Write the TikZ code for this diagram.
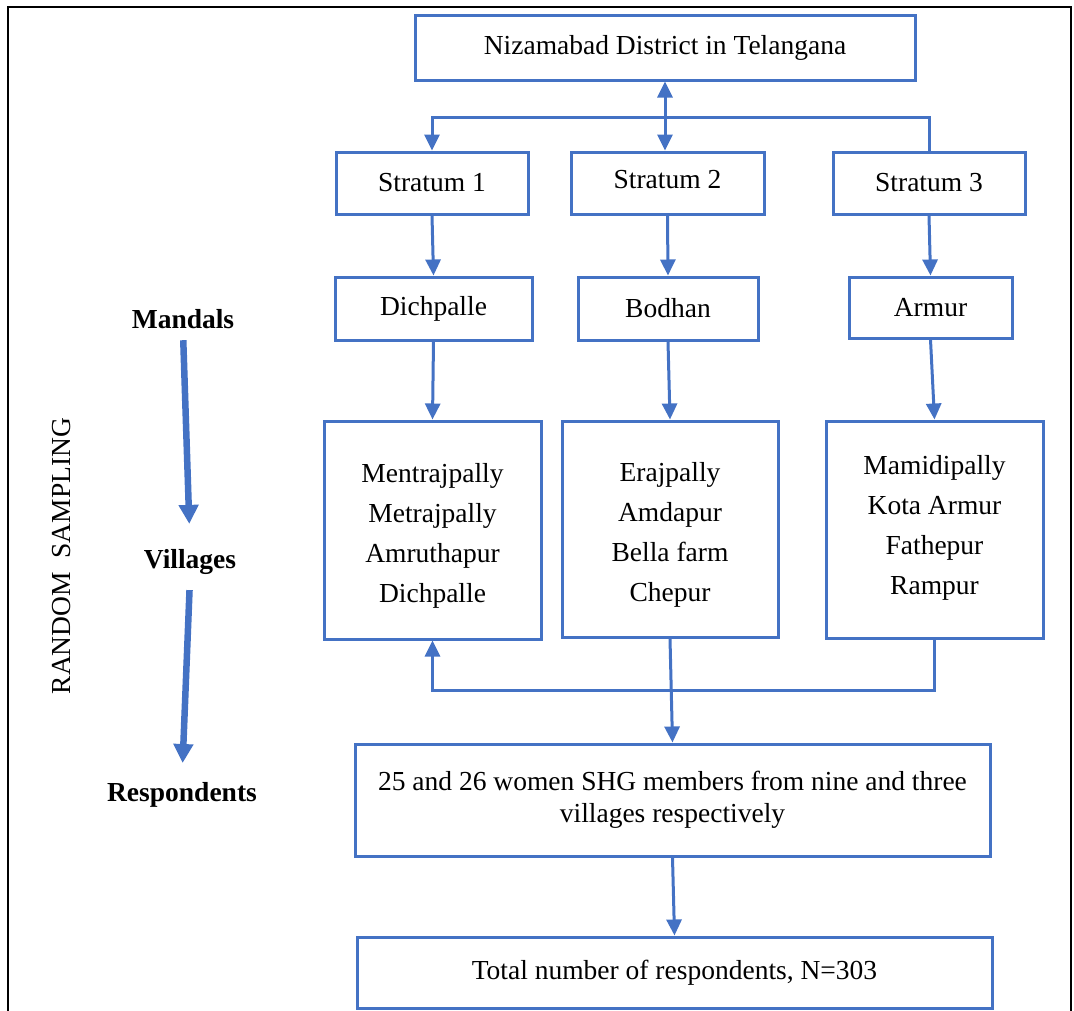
\documentclass[tikz,border=0pt]{standalone}
\usepackage{fontspec}
\setmainfont{Liberation Serif}
\usetikzlibrary{arrows.meta,calc}
\definecolor{boxblue}{HTML}{4472C4}
\newcommand{\vlist}[2]{\raisebox{#1}[\height][\depth]{\begin{tabular}{@{}c@{}}#2\end{tabular}}}
\begin{document}
\begin{tikzpicture}[x=1pt,y=-1pt,
  box/.style={draw=boxblue, line width=3pt, inner sep=0pt, align=center,
    font=\fontsize{27.5}{40}\selectfont},
  conn/.style={draw=boxblue, line width=3pt},
  tip/.style={-{Triangle[length=16pt,width=15pt]}},
  lbl/.style={font=\fontsize{27.5}{33}\selectfont\bfseries},
  bigarrow/.style={draw=boxblue, line width=6.5pt, -{Triangle[length=19pt,width=19pt]}}
]
\useasboundingbox (0,0) rectangle (1074,1010);
% outer frame
\draw[black, line width=2pt] (8,1012) -- (8,7) -- (1071,7) -- (1071,1012);

% boxes
\node[box, minimum width=500pt, minimum height=65pt] (niz) at (665,47.5) {Nizamabad District in Telangana};
\node[box, minimum width=192pt, minimum height=62pt] (s1) at (432,183) {Stratum 1};
\node[box, minimum width=193pt, minimum height=62pt] (s2) at (667.5,183) {\raisebox{3pt}[\height][\depth]{Stratum 2}};
\node[box, minimum width=192pt, minimum height=62pt] (s3) at (929,183) {Stratum 3};
\node[box, minimum width=197pt, minimum height=63pt] (d1) at (433.5,308.5) {Dichpalle};
\node[box, minimum width=180pt, minimum height=63pt] (d2) at (668,308.5) {Bodhan};
\node[box, minimum width=163pt, minimum height=61pt] (d3) at (930.5,307.5) {Armur};
\node[box, minimum width=217pt, minimum height=218pt] (v1) at (432.5,530) {\vlist{-4pt}{Mentrajpally\\Metrajpally\\Amruthapur\\Dichpalle}};
\node[box, minimum width=216pt, minimum height=216pt] (v2) at (670,529) {\vlist{-4pt}{Erajpally\\Amdapur\\Bella farm\\Chepur}};
\node[box, minimum width=217pt, minimum height=217pt] (v3) at (934.5,529.5) {\vlist{3pt}{Mamidipally\\Kota Armur\\Fathepur\\Rampur}};
\node[box, minimum width=635pt, minimum height=112pt, font=\fontsize{27.5}{32}\selectfont] (shg) at (672.5,800)
  {25 and 26 women SHG members from nine and three\\villages respectively};
\node[box, minimum width=635pt, minimum height=71pt] (tot) at (674.5,972.5) {Total number of respondents, N=303};

% bus coordinates
\coordinate (busT) at (0,117);
\coordinate (busB) at (0,690);

% connectors
\draw[conn, {Triangle[length=16pt,width=15pt]}-{Triangle[length=16pt,width=15pt]}] (niz.south) -- (niz.south |- s2.north);
\draw[conn, tip] (s3.north) -- (s3.north |- busT) -| (s1.north);
\draw[conn, tip] (s1.south) -- (d1.north);
\draw[conn, tip] (s2.south) -- (d2.north);
\draw[conn, tip] (s3.south) -- (d3.north);
\draw[conn, tip] (d1.south) -- (v1.north);
\draw[conn, tip] (d2.south) -- (v2.north);
\draw[conn, tip] (d3.south) -- (v3.north);
\draw[conn, tip] (v3.south) -- (v3.south |- busB) -| (v1.south);
\draw[conn, tip] (v2.south) -- (shg.north);
\draw[conn, tip] (shg.south) -- (tot.north);

% left labels
\node[lbl] (man) at (183,319) {Mandals};
\node[lbl] (vil) at (190,562) {Villages};
\node[lbl] (res) at (182,795) {Respondents};
\node[rotate=90, font=\fontsize{27.5}{33}\selectfont] (rs) at (62,556) {RANDOM\ \ SAMPLING};
\draw[bigarrow, shorten <=8pt, shorten >=22pt] (man.south) -- (vil.north);
\draw[bigarrow, shorten <=12pt, shorten >=16pt] (vil.south) -- (res.north);
\end{tikzpicture}
\end{document}
